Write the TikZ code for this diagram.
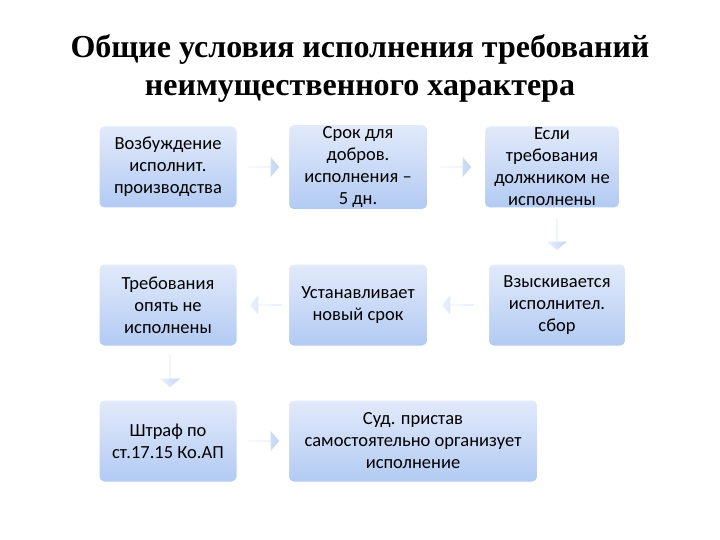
\documentclass[tikz,border=0pt]{standalone}
\usepackage{fontspec}
\setmainfont{Carlito}
\newfontfamily\titlefont{Liberation Serif}
\usetikzlibrary{shapes.arrows}
\definecolor{boxtop}{RGB}{226,234,250}
\definecolor{boxbot}{RGB}{178,202,243}
\definecolor{arrl}{RGB}{236,241,251}
\definecolor{arrr}{RGB}{196,213,243}
\begin{document}
\begin{tikzpicture}[x=1pt,y=-1pt,
  box/.style={rounded corners=5pt, top color=boxtop, bottom color=boxbot,
     draw=white, line width=1pt, minimum height=82pt, align=center, font=\fontsize{18.5}{22}\selectfont, inner sep=2pt},
  arr/.style={single arrow, draw=none, minimum height=32pt, minimum width=20pt, single arrow head extend=7pt,
     single arrow tip angle=100, inner sep=0pt, left color=arrl, right color=arrr}]
\useasboundingbox (0,0) rectangle (720,540);
\node[font=\titlefont\bfseries\fontsize{32}{38}\selectfont, align=center] (t) at (360,69) {Общие условия исполнения требований\\неимущественного характера};
\node[box, minimum width=138pt] (a) at (168,167) {Возбуждение\\исполнит.\\производства};
\node[box, minimum width=139pt] (b) at (358,167) {Срок для\\добров.\\исполнения –\\5 дн.};
\node[box, minimum width=135pt] (c) at (552,167) {Если\\требования\\должником не\\исполнены};
\node[box, minimum width=138pt] (d) at (168,305) {Требования\\опять не\\исполнены};
\node[box, minimum width=139pt] (e) at (358,305) {Устанавливает\\новый срок};
\node[box, minimum width=137pt] (f) at (557,305) {Взыскивается\\исполнител.\\сбор};
\node[box, minimum width=138pt] (g) at (168,441) {Штраф по\\ст.17.15 Ко.АП};
\node[box, minimum width=249pt] (h) at (413,441) {Суд. пристав\\самостоятельно организует\\исполнение};
\node[arr] (a1) at (263,167) {};
\node[arr] (a2) at (455,167) {};
\node[arr, rotate=-90] (a3) at (557,234) {};
\node[arr, rotate=180] (a4) at (458,305) {};
\node[arr, rotate=180] (a5) at (266,305) {};
\node[arr, rotate=-90] (a6) at (170,371) {};
\node[arr] (a7) at (263,441) {};
\end{tikzpicture}
\end{document}
